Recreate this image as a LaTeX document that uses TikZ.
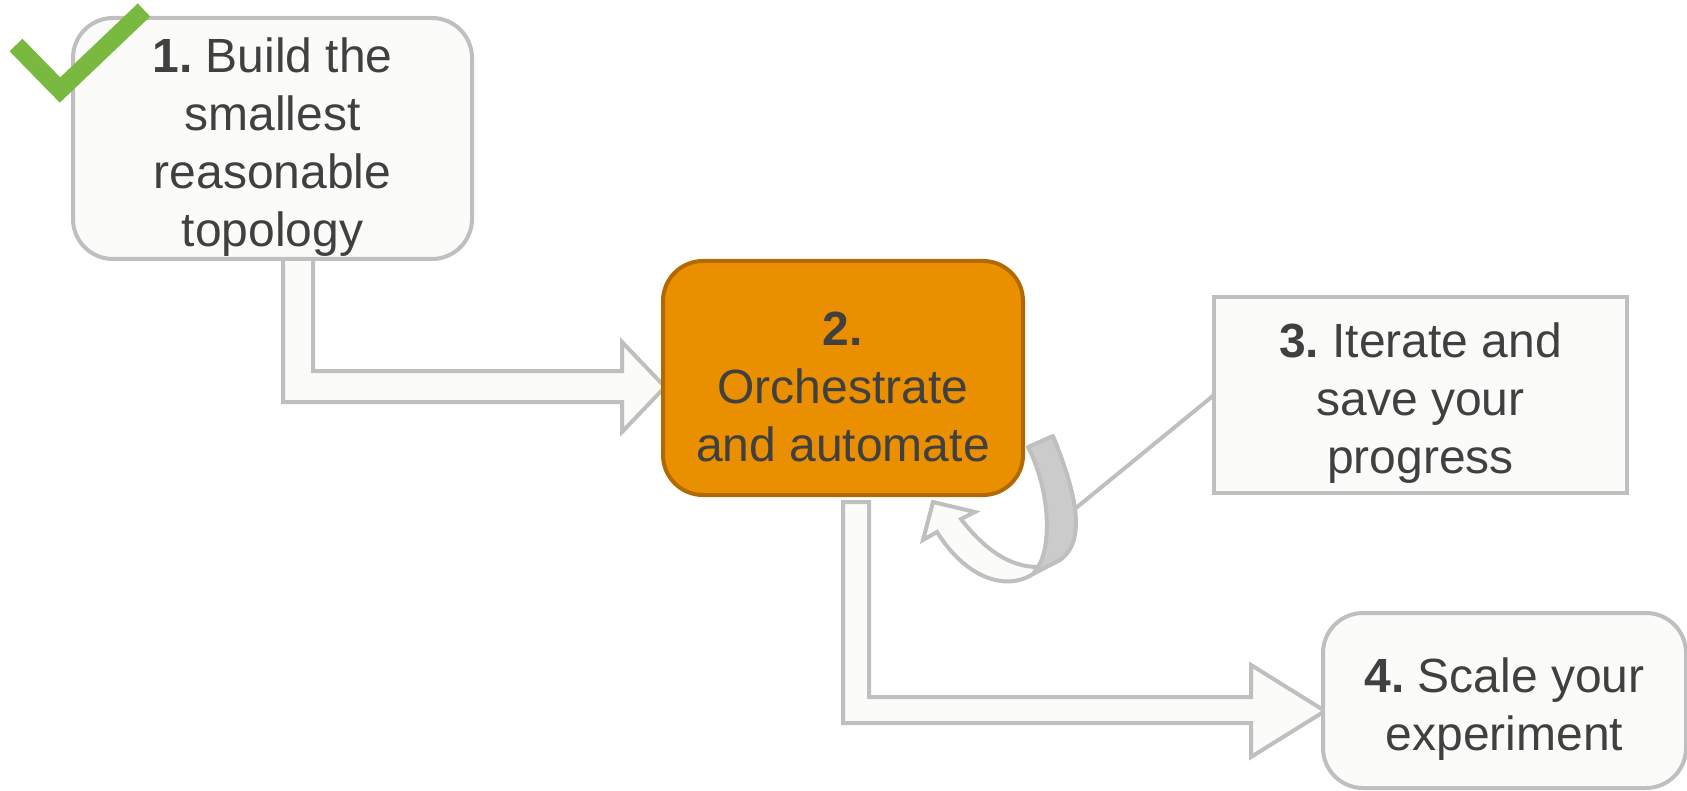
\documentclass[tikz,border=0pt]{standalone}
\usepackage{fontspec}
\setmainfont{Liberation Sans}
\usetikzlibrary{backgrounds}
\frenchspacing
\definecolor{boxgrey}{HTML}{BFBFBF}
\definecolor{boxfill}{HTML}{FBFBF9}
\definecolor{orangefill}{HTML}{E98F00}
\definecolor{orangeline}{HTML}{B06A00}
\definecolor{txt}{HTML}{404040}
\definecolor{checkgreen}{HTML}{7AB940}
\definecolor{band}{HTML}{CBCBCB}
\newcommand\topstrut{\rule{0pt}{25.5pt}}
\begin{document}
\begin{tikzpicture}[x=0.5pt,y=-0.5pt,
  box/.style={draw=boxgrey, line width=2pt, fill=boxfill, rounded corners=20pt,
    align=center, text=txt, inner sep=0pt, outer sep=0pt,
    font=\fontsize{24}{29}\selectfont\frenchspacing},
  squarebox/.style={box, rounded corners=0pt},
  hotbox/.style={box, draw=orangeline, fill=orangefill},
  blockarrow/.style={draw=boxgrey, line width=2pt, fill=boxfill, line join=miter},
  loopband/.style={draw=boxgrey, line width=2pt, fill=band, line join=round},
  loophead/.style={draw=boxgrey, line width=2pt, fill=boxfill, line join=miter},
  link/.style={draw=boxgrey, line width=2pt},
  tick/.style={draw=checkgreen, line width=9pt, line join=miter, line cap=butt}
]
\useasboundingbox (0,0) rectangle (1687,791);

\node[box, minimum width=199.5pt, minimum height=120.5pt] (b1) at (272.5,138.5)
  {\topstrut\textbf{1.} Build the\\smallest\\reasonable\\topology};
\node[hotbox, minimum width=180pt, minimum height=117pt] (b2) at (843,378)
  {\topstrut\textbf{2.}\\Orchestrate\\and automate};
\node[squarebox, minimum width=206.5pt, minimum height=98pt] (b3) at (1420.5,395)
  {\topstrut\textbf{3.} Iterate and\\save your\\progress};
\node[box, minimum width=181.5pt, minimum height=87.5pt] (b4) at (1504.5,700.5)
  {\topstrut\textbf{4.} Scale your\\experiment};

\coordinate (loop) at (1076,508);

\begin{scope}[on background layer]
  % arrow from 1 to 2
  \draw[blockarrow] (283,250) -- (313,250) -- (313,371) -- (622,371) -- (622,342)
    -- (665,387) -- (622,432) -- (622,402) -- (283,402) -- cycle;
  % arrow from 2 to 4
  \draw[blockarrow] (843,502) -- (869,502) -- (869,697) -- (1251,697) -- (1251,665)
    -- (1325,711) -- (1251,757) -- (1251,723) -- (843,723) -- cycle;
\end{scope}

% loop arrow at 2
\draw[loopband] (1028,447) -- (1053,436) .. controls (1075,490) and (1088,540) .. (1060,560)
  -- (1033,574) -- (1038,567) .. controls (1052,545) and (1050,490) .. (1028,447) -- cycle;
\draw[loophead] (1033,574) .. controls (1005,592) and (965,577) .. (937,532) -- (923,540)
  -- (933,502) -- (975,512) -- (961,519) .. controls (985,550) and (1010,567) .. (1038,567) -- cycle;
\draw[link] (b3.west) -- (loop);

% check mark
\draw[tick] (16,45) -- (60,90) -- (144,10);
\end{tikzpicture}
\end{document}
